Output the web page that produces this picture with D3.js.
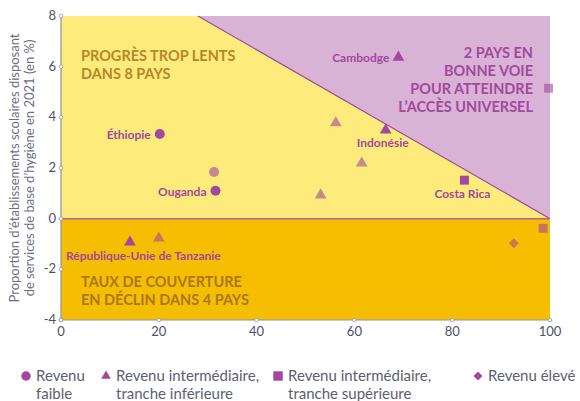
<!DOCTYPE html>
<html>
<head>
<meta charset="utf-8" />
<script src="https://cdn.jsdelivr.net/npm/d3@7"></script>
<style>
  body { margin: 0; padding: 0; background: #fff; }
  svg { display: block; font-family: Lato, "Open Sans", sans-serif; }
  .tick-label { font-size: 13px; fill: #4b5068; }
  .axis-title { font-size: 13px; fill: #6b6f80; }
  .zone { font-weight: bold; font-size: 14.5px; }
  .pt-label { font-size: 12px; font-weight: bold; fill: #a3489e; }
  .legend { font-size: 15px; fill: #5d6072; }
</style>
</head>
<body>
<svg id="chart" width="580" height="401"></svg>
<script>
// data
var countries = ["Éthiopie", "", "Ouganda", "Cambodge", "", "", "Indonésie", "", "Costa Rica", "", "République-Unie de Tanzanie", "", "", ""];
var coverage  = [20.2, 31.3, 31.6, 69.0, 99.7, 56.2, 66.4, 61.5, 82.5, 53.1, 14.1, 20.0, 98.6, 92.6];
var progress  = [3.34, 1.84, 1.10, 6.37, 5.15, 3.78, 3.50, 2.19, 1.52, 0.93, -0.93, -0.77, -0.38, -0.97];
var income    = ["low", "low", "low", "lmid", "umid", "lmid", "lmid", "lmid", "umid", "lmid", "lmid", "lmid", "umid", "high"];

var xTicks = [0, 20, 40, 60, 80, 100];
var yTicks = [-4, -2, 0, 2, 4, 6, 8];

var legendKeys   = ["low", "lmid", "umid", "high"];
var legendLabels = [["Revenu", "faible"], ["Revenu intermédiaire,", "tranche inférieure"],
                    ["Revenu intermédiaire,", "tranche supérieure"], ["Revenu élevé", ""]];

var purple = "#a3489e";

var svg = d3.select("#chart");
var x = d3.scaleLinear().domain([0, 100]).range([61, 550]);
var y = d3.scaleLinear().domain([-4, 8]).range([320, 16]);

// required rate for universal access by 2030
function needed(v) { return (100 - v) / 9; }

// backgrounds
svg.append("rect").attr("x", x(0)).attr("y", y(8))
    .attr("width", x(100) - x(0)).attr("height", y(-4) - y(8))
    .attr("fill", "#d8b3d5");
svg.append("rect").attr("x", x(0)).attr("y", y(0))
    .attr("width", x(100) - x(0)).attr("height", y(-4) - y(0))
    .attr("fill", "#f5be00");
svg.append("path")
    .attr("d", "M" + x(0) + "," + y(0) + "L" + x(0) + "," + y(8) +
               "L" + x(28) + "," + y(needed(28)) + "L" + x(100) + "," + y(needed(100)) + "Z")
    .attr("fill", "#fdec7b");
svg.append("line")
    .attr("x1", x(28)).attr("y1", y(needed(28)))
    .attr("x2", x(100)).attr("y2", y(needed(100)))
    .attr("stroke", purple).attr("stroke-width", 1.2);
svg.append("line")
    .attr("x1", x(0)).attr("y1", y(0)).attr("x2", x(100)).attr("y2", y(0))
    .attr("stroke", "#b45fa8").attr("stroke-width", 1.5);

// zone titles
function lines(txt, x0, y0, anchor, color) {
  var t = svg.append("text").attr("class", "zone").attr("fill", color)
      .attr("text-anchor", anchor);
  txt.forEach(function(s, i) {
    t.append("tspan").attr("x", x0).attr("y", y0 + i * 18).text(s);
  });
}
lines(["PROGRÈS TROP LENTS", "DANS 8 PAYS"], 81, 61, "start", "#b88729");
lines(["2 PAYS EN", "BONNE VOIE", "POUR ATTEINDRE", "L’ACCÈS UNIVERSEL"], 533, 58, "end", purple);
lines(["TAUX DE COUVERTURE", "EN DÉCLIN DANS 4 PAYS"], 81, 287, "start", "#ad7520");

// axes
var axis = svg.append("g");
axis.append("line").attr("x1", x(0)).attr("x2", x(0)).attr("y1", y(8)).attr("y2", y(-4))
    .attr("stroke", "#8e91a8").attr("stroke-width", 1.2);
axis.append("line").attr("x1", x(0)).attr("x2", x(100)).attr("y1", y(-4)).attr("y2", y(-4))
    .attr("stroke", "#8e91a8").attr("stroke-width", 1.2);
axis.selectAll(".yt").data(yTicks).enter().append("circle")
    .attr("cx", x(0)).attr("cy", function(d) { return y(d); }).attr("r", 1.8)
    .attr("fill", "#fff").attr("stroke", "#8e91a8").attr("stroke-width", 0.8);
axis.selectAll(".xt").data(xTicks).enter().append("circle")
    .attr("cx", function(d) { return x(d); }).attr("cy", y(-4)).attr("r", 1.8)
    .attr("fill", "#fff").attr("stroke", "#8e91a8").attr("stroke-width", 0.8);
axis.selectAll(".yl").data(yTicks).enter().append("text")
    .attr("class", "tick-label").attr("text-anchor", "end")
    .attr("x", x(0) - 5).attr("y", function(d) { return y(d) + 4; })
    .text(function(d) { return d; });
axis.selectAll(".xl").data(xTicks).enter().append("text")
    .attr("class", "tick-label").attr("text-anchor", "middle")
    .attr("x", function(d) { return x(d); }).attr("y", y(-4) + 16)
    .text(function(d) { return d; });

var yt = svg.append("text").attr("class", "axis-title").attr("text-anchor", "middle")
    .attr("transform", "translate(0,168) rotate(-90)");
yt.append("tspan").attr("x", 0).attr("y", 19).text("Proportion d’établissements scolaires disposant");
yt.append("tspan").attr("x", 0).attr("y", 34).text("de services de base d’hygiène en 2021 (en %)");

// markers (diamond = rotated square)
var symbolOf = { low: d3.symbolCircle, lmid: d3.symbolTriangle, umid: d3.symbolSquare, high: d3.symbolSquare };
var sizeOf = { low: 80, lmid: 60, umid: 80, high: 50 };
var rotOf = { low: 0, lmid: 0, umid: 0, high: 45 };
var idx = d3.range(coverage.length);

svg.append("g").selectAll("path").data(idx).enter().append("path")
    .attr("transform", function(i) {
      return "translate(" + x(coverage[i]) + "," + y(progress[i]) + ") rotate(" + rotOf[income[i]] + ")";
    })
    .attr("d", function(i) { return d3.symbol().type(symbolOf[income[i]]).size(sizeOf[income[i]])(); })
    .attr("fill", purple)
    .attr("fill-opacity", function(i) { return countries[i] ? 1 : 0.6; });

// country labels
var labelPos = {
  "Éthiopie":   { dx: -9, dy: 5, anchor: "end" },
  "Ouganda":    { dx: -9, dy: 5, anchor: "end" },
  "Cambodge":   { dx: -9, dy: 5, anchor: "end" },
  "Indonésie":  { dx: -3, dy: 17, anchor: "middle" },
  "Costa Rica": { dx: -2, dy: 18, anchor: "middle" },
  "République-Unie de Tanzanie": { dx: -64, dy: 18, anchor: "start" }
};
svg.append("g").selectAll("text").data(idx.filter(function(i) { return countries[i]; }))
  .enter().append("text")
    .attr("class", "pt-label")
    .attr("x", function(i) { return x(coverage[i]) + labelPos[countries[i]].dx; })
    .attr("y", function(i) { return y(progress[i]) + labelPos[countries[i]].dy; })
    .attr("text-anchor", function(i) { return labelPos[countries[i]].anchor; })
    .text(function(i) { return countries[i]; });

// legend
var legendX = [26, 106, 278, 478];
var legendSize = { low: 70, lmid: 40, umid: 90, high: 40 };
var lg = svg.append("g").selectAll("g").data(legendKeys).enter().append("g")
    .attr("transform", function(d, i) { return "translate(" + legendX[i] + ",376)"; });
lg.append("path")
    .attr("transform", function(d) { return "rotate(" + rotOf[d] + ")"; })
    .attr("d", function(d) { return d3.symbol().type(symbolOf[d]).size(legendSize[d])(); })
    .attr("fill", purple);
var lt = lg.append("text").attr("class", "legend");
lt.append("tspan").attr("x", 10).attr("y", 5).text(function(d, i) { return legendLabels[i][0]; });
lt.append("tspan").attr("x", 10).attr("y", 23).text(function(d, i) { return legendLabels[i][1]; });
</script>
</body>
</html>
